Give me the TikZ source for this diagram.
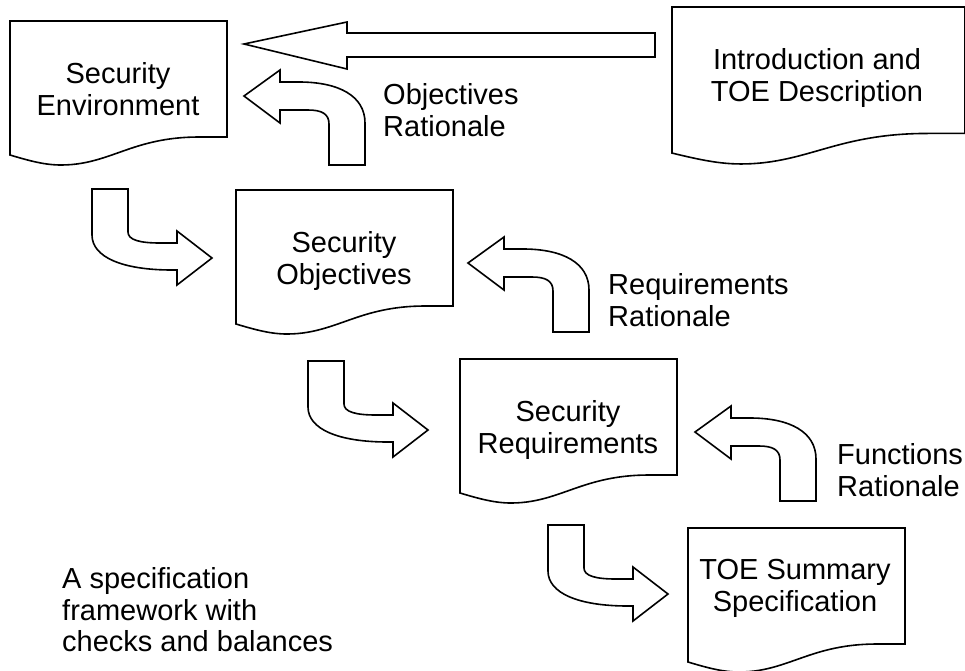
\documentclass[tikz,border=0pt]{standalone}
\usepackage{fontspec}
\setmainfont{Liberation Sans}
\begin{document}
\begin{tikzpicture}[x=1pt,y=-1pt,
  shapeline/.style={draw=black,line width=1.6pt,fill=white,line join=miter},
  doctext/.style={inner sep=0pt,align=center,font=\fontsize{29}{32}\selectfont},
  labeltext/.style={inner sep=0pt,align=left,anchor=west,font=\fontsize{29}{31.5}\selectfont},
  docshape/.pic={\path[shapeline] (0,134) .. controls (20,140) and (35,144) .. (51,144)
      .. controls (80,144) and (100,134) .. (125,126)
      .. controls (150,118) and (170,116) .. (190,116) -- (217,116) -- (217,0) -- (0,0) -- cycle;},
  rarrow/.pic={\path[shapeline] (0,0) -- (36,0) -- (36,43)
      .. controls (36,51) and (48,54) .. (68,54) -- (85,54) -- (85,42) -- (120,69)
      -- (85,96) -- (85,81) -- (80,81) .. controls (30,81) and (0,68) .. (0,46) -- cycle;},
  larrow/.pic={\path[shapeline] (0,0) -- (36,-26) -- (36,-14) -- (55,-14)
      .. controls (95,-14) and (121,0) .. (121,27) -- (121,69) -- (85,69) -- (85,28)
      .. controls (85,18) and (78,14) .. (64,14) -- (36,14) -- (36,27) -- cycle;}
]
\useasboundingbox[fill=white] (0,0) rectangle (965,670);

% big arrow
\path[shapeline] (244,44) -- (347,22) -- (347,33) -- (655,33) -- (655,57) -- (347,57) -- (347,69) -- cycle;

% documents
\pic at (10,21) {docshape};
\pic at (236,190) {docshape};
\pic at (460,359) {docshape};
\pic at (688,528) {docshape};
\pic[xscale=1.35,yscale=1.09] at (672,7) {docshape};

\node[doctext] (env) at (118,89) {Security\\Environment};
\node[doctext] (obj) at (344,261) {Security\\Objectives};
\node[doctext] (req) at (568,430) {Security\\Requirements};
\node[doctext] (toe) at (795,588) {TOE Summary\\Specification};
\node[doctext] (intro) at (817,78) {Introduction and\\TOE Description};

% bent arrows
\pic at (92,189) {rarrow};
\pic at (308,361) {rarrow};
\pic at (548,525) {rarrow};
\pic at (244,96) {larrow};
\pic at (468,263) {larrow};
\pic at (695,432) {larrow};

% labels
\node[labeltext] (objrat) at (383,110) {Objectives\\Rationale};
\node[labeltext] (reqrat) at (608,300) {Requirements\\Rationale};
\node[labeltext] (funrat) at (837,470) {Functions\\Rationale};
\node[labeltext] (spec) at (62,610) {A specification\\framework with\\checks and balances};
\end{tikzpicture}
\end{document}
